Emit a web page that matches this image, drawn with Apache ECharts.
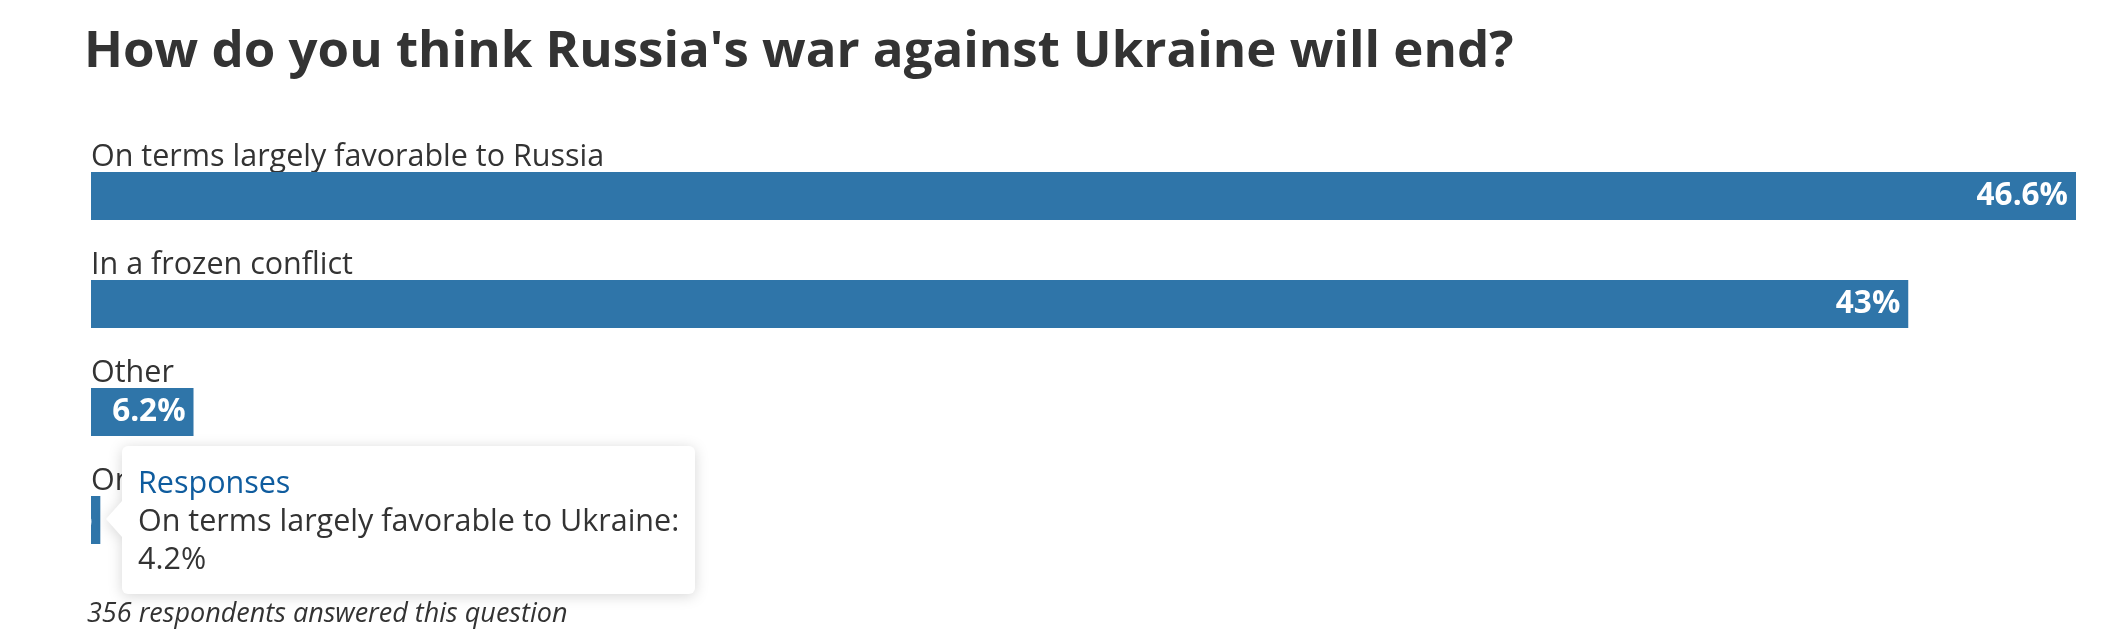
<!DOCTYPE html>
<html><head><meta charset="utf-8">
<script src="https://cdn.jsdelivr.net/npm/echarts@6/dist/echarts.min.js"></script>
<style>html,body{margin:0;padding:0;background:#fff}#c{width:2126px;height:642px}</style>
</head><body><div id="c"></div>
<script>
const titleText = "How do you think Russia's war against Ukraine will end?";
const footerText = "356 respondents answered this question";
const seriesName = "Responses";
const categories = [
  "On terms largely favorable to Russia",
  "In a frozen conflict",
  "Other",
  "On terms largely favorable to Ukraine"
];
const values = [46.6, 43, 6.2, 4.2];
const axisMin = 4;
const axisMax = 46.6;
const tooltipIndex = 3;

const FONT = "'Open Sans', Lato, sans-serif";
const chart = echarts.init(document.getElementById('c'));
chart.setOption({
  animation: false,
  backgroundColor: '#fff',
  title: [
    { text: titleText, left: 79, top: 22,
      textStyle: { fontFamily: FONT, fontSize: 51, fontWeight: 'bold', color: '#333' } },
    { text: footerText, left: 82, top: 596,
      textStyle: { fontFamily: FONT, fontSize: 27, fontWeight: 'normal', fontStyle: 'italic', color: '#333' } }
  ],
  grid: { left: 91, right: 50, top: 142, height: 432, containLabel: false },
  xAxis: { type: 'value', min: axisMin, max: axisMax, show: false },
  yAxis: {
    type: 'category', data: categories, inverse: true,
    axisLine: { show: false }, axisTick: { show: false }, splitLine: { show: false },
    axisLabel: {
      inside: true, margin: 0, interval: 0, align: 'left', verticalAlign: 'middle',
      formatter: function (v) { return '{t|' + v + '}\n{s|}'; },
      rich: {
        t: { fontFamily: FONT, fontSize: 30.5, color: '#333', lineHeight: 36 },
        s: { height: 78, lineHeight: 78 }
      }
    }
  },
  tooltip: {
    trigger: 'item', triggerOn: 'none', alwaysShowContent: true,
    transitionDuration: 0,
    backgroundColor: '#fff', borderColor: '#fff', borderWidth: 0,
    padding: [16, 16, 18, 16],
    textStyle: { fontFamily: FONT, fontSize: 30.5, color: '#333' },
    extraCssText: 'box-shadow:none;border-radius:6px;white-space:nowrap;filter:drop-shadow(0 2px 7px rgba(0,0,0,0.16));',
    position: function (point, params, dom, rect, size) {
      return [rect.x + rect.width + 22, rect.y + rect.height / 2 - size.contentSize[1] / 2];
    },
    formatter: function (p) {
      return '<div style="position:relative">' +
        '<div style="position:absolute;left:-32px;top:50%;margin-top:-18px;width:0;height:0;border-top:18px solid transparent;border-bottom:18px solid transparent;border-right:16px solid #fff"></div>' +
        '<div style="color:#0f5c9e;line-height:38px">' + p.seriesName + '</div>' +
        '<div style="line-height:38px">' + p.name + ':</div>' +
        '<div style="line-height:38px">' + p.value + '%</div></div>';
    }
  },
  series: [{
    name: seriesName, type: 'bar', data: values, barWidth: 48,
    itemStyle: { color: '#2f75a9' },
    label: {
      show: true, position: 'insideRight', distance: 8,
      color: '#fff', fontFamily: FONT, fontSize: 31.5, fontWeight: 'bold',
      formatter: '{c}%'
    }
  }]
});
chart.dispatchAction({ type: 'showTip', seriesIndex: 0, dataIndex: tooltipIndex });
</script></body></html>
